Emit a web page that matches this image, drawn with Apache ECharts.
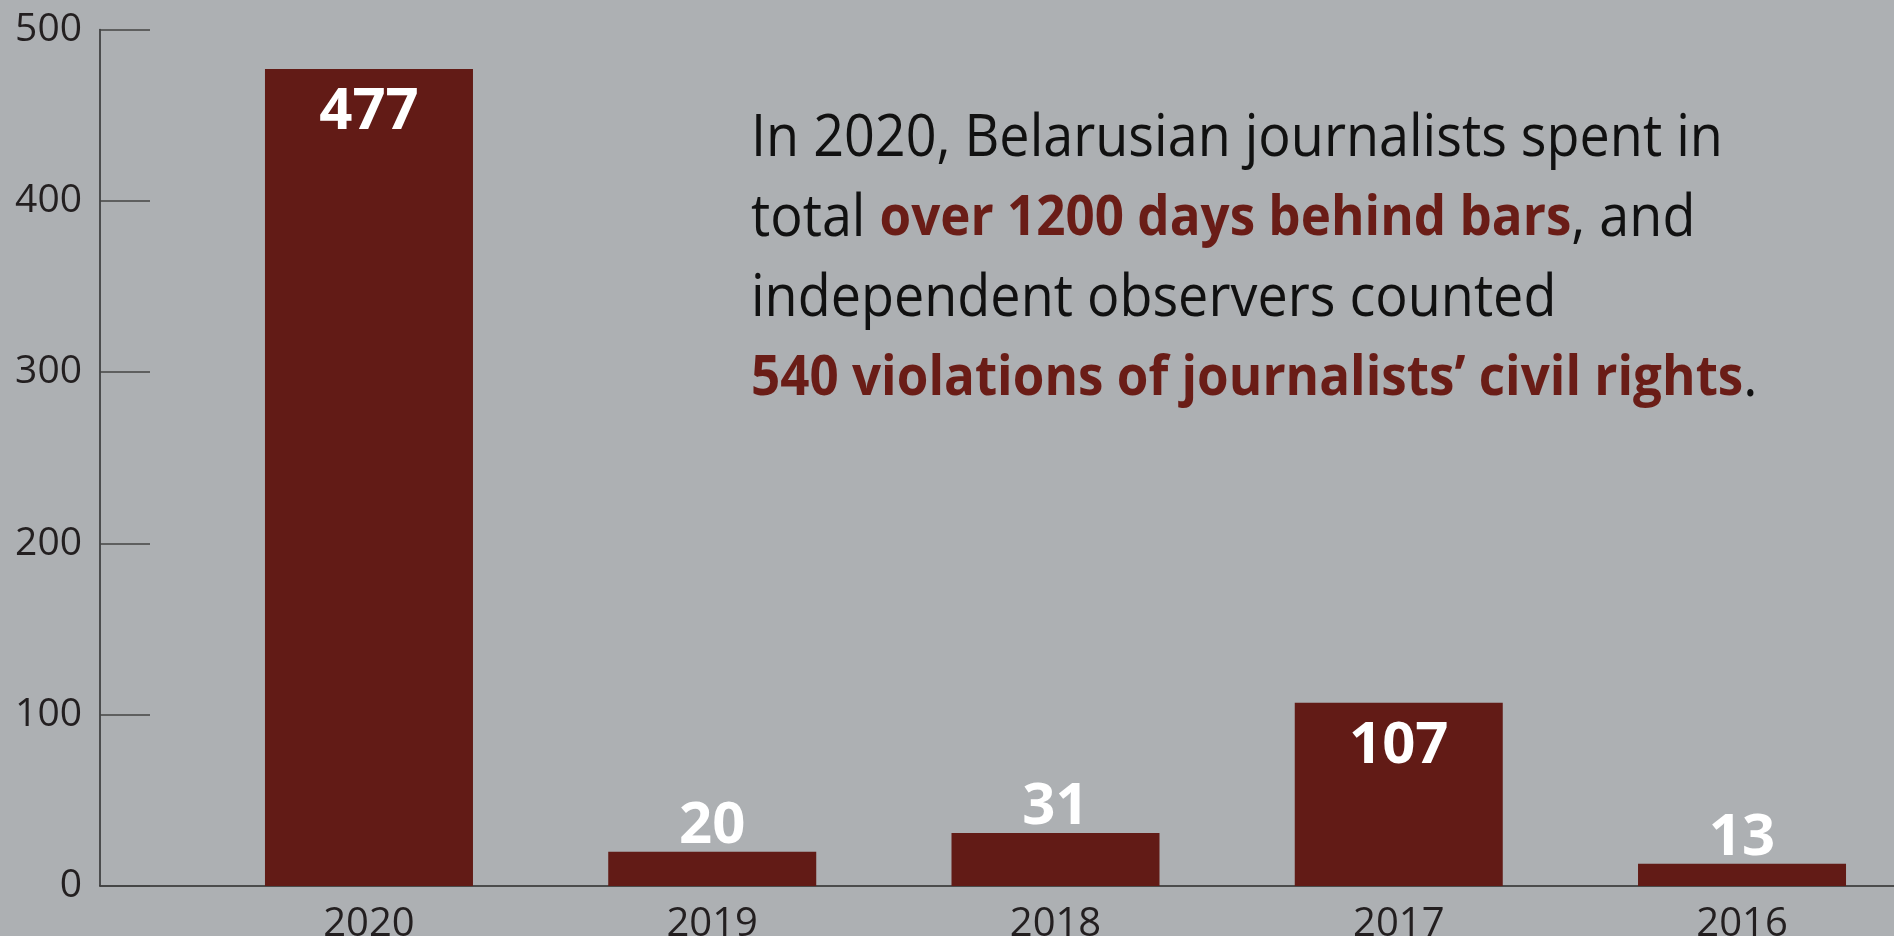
<!DOCTYPE html>
<html><head><meta charset="utf-8">
<script src="https://cdn.jsdelivr.net/npm/echarts@6/dist/echarts.min.js"></script>
<style>html,body{margin:0;padding:0;background:#adb0b3;}#c{width:1894px;height:936px;}</style>
</head><body><div id="c"></div>
<script>
const categories = ['2020', '2019', '2018', '2017', '2016'];
const values = [477, 20, 31, 107, 13];
const yMin = 0, yMax = 500, yStep = 100;
const noteLines = [
  'In 2020, Belarusian journalists spent in',
  'total {r|over 1200 days behind bars}, and',
  'independent observers counted',
  '{r|540 violations of journalists’ civil rights}.'
];

const FONT = '"Open Sans", "Noto Sans", sans-serif';
const BAR = '#621b16';
const INK = '#231f20';
const chart = echarts.init(document.getElementById('c'));
chart.setOption({
  backgroundColor: '#adb0b3',
  animation: false,
  grid: [
    {left: 100, right: 0, top: 29.5, bottom: 50, outerBoundsMode: 'none'},
    {left: 197.35, width: 1716.3, top: 29.5, bottom: 50, outerBoundsMode: 'none'}
  ],
  xAxis: [
    {gridIndex: 0, type: 'category', data: [''], axisLine: {show: true, lineStyle: {color: '#2b2b2b', width: 1.5}},
     axisTick: {show: false}, axisLabel: {show: false}},
    {gridIndex: 1, type: 'category', data: categories, axisLine: {show: false}, axisTick: {show: false},
     axisLabel: {color: INK, fontFamily: FONT, fontSize: 40, margin: 19}}
  ],
  yAxis: [
    {gridIndex: 0, type: 'value', min: yMin, max: yMax, interval: yStep,
     axisLine: {show: true, lineStyle: {color: '#2b2b2b', width: 1.5}},
     axisTick: {show: true, inside: true, length: 50, lineStyle: {color: '#444', width: 1.5}},
     splitLine: {show: false},
     axisLabel: {color: INK, fontFamily: FONT, fontSize: 39, margin: 18}},
    {gridIndex: 1, type: 'value', min: yMin, max: yMax, interval: yStep, show: false}
  ],
  series: [{
    type: 'bar', xAxisIndex: 1, yAxisIndex: 1, barWidth: 208,
    itemStyle: {color: BAR},
    data: values.map(v => ({
      value: v,
      label: v >= 100 ? {position: 'insideTop', distance: 15} : {position: 'top', distance: -4}
    })),
    label: {show: true, color: '#fff', fontFamily: FONT, fontWeight: 'bold', fontSize: 58}
  }],
  graphic: [{
    type: 'text', left: 751, top: 99, scaleX: 0.93, originX: 0, originY: 0,
    style: {
      text: noteLines.join('\n'),
      font: '58px ' + FONT,
      fill: '#111',
      lineHeight: 80,
      rich: {r: {fontWeight: 'bold', fill: '#6a1d17', fontSize: 55, fontFamily: FONT, lineHeight: 80}}
    }
  }]
});
</script></body></html>
